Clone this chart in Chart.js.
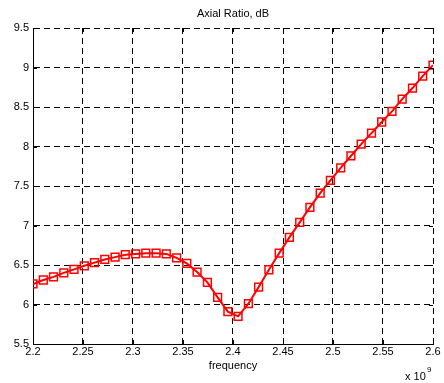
<!DOCTYPE html>
<html>
<head>
<meta charset="utf-8">
<script src="https://cdn.jsdelivr.net/npm/chart.js@4"></script>
<style>
  html, body { margin: 0; padding: 0; background: #fff; }
  #wrap { width: 444px; height: 383px; }
</style>
</head>
<body>
<div id="wrap"><canvas id="arChart" width="444" height="383"></canvas></div>
<script>
// frequency in GHz (axis shows x 10^9), 40 samples 2.2 .. 2.6
const freq = [
  2.2, 2.2103, 2.2205, 2.2308, 2.241, 2.2513, 2.2615, 2.2718, 2.2821, 2.2923,
  2.3026, 2.3128, 2.3231, 2.3333, 2.3436, 2.3538, 2.3641, 2.3744, 2.3846, 2.3949,
  2.4051, 2.4154, 2.4256, 2.4359, 2.4462, 2.4564, 2.4667, 2.4769, 2.4872, 2.4974,
  2.5077, 2.5179, 2.5282, 2.5385, 2.5487, 2.559, 2.5692, 2.5795, 2.5897, 2.6
];
const axialRatio = [
  6.26, 6.31, 6.35, 6.40, 6.445, 6.49, 6.53, 6.57, 6.60, 6.63,
  6.64, 6.65, 6.65, 6.64, 6.59, 6.52, 6.41, 6.28, 6.09, 5.91,
  5.85, 6.01, 6.22, 6.44, 6.65, 6.85, 7.04, 7.23, 7.41, 7.57,
  7.73, 7.88, 8.03, 8.17, 8.31, 8.445, 8.60, 8.74, 8.89, 9.03
];
const xTicks = [2.2, 2.25, 2.3, 2.35, 2.4, 2.45, 2.5, 2.55, 2.6];
const yTicks = [5.5, 6, 6.5, 7, 7.5, 8, 8.5, 9, 9.5];
const titleText = "Axial Ratio, dB";
const xLabel = "frequency";

const FONT = "Arial, 'Liberation Sans', sans-serif";

// matlab style extras: inward ticks, title, labels, exponent
const matlabBits = {
  id: "matlabBits",
  afterDraw(chart) {
    const ctx = chart.ctx;
    const a = chart.chartArea;
    const xs = chart.scales.x;
    const ys = chart.scales.y;
    ctx.save();
    ctx.strokeStyle = "#000";
    ctx.lineWidth = 1;
    ctx.beginPath();
    for (const t of xTicks) {
      const px = Math.round(xs.getPixelForValue(t)) + 0.5;
      ctx.moveTo(px, a.bottom); ctx.lineTo(px, a.bottom - 4);
      ctx.moveTo(px, a.top); ctx.lineTo(px, a.top + 4);
    }
    for (const t of yTicks) {
      const py = Math.round(ys.getPixelForValue(t)) + 0.5;
      ctx.moveTo(a.left, py); ctx.lineTo(a.left + 4, py);
      ctx.moveTo(a.right, py); ctx.lineTo(a.right - 4, py);
    }
    ctx.stroke();

    ctx.fillStyle = "#000";
    ctx.font = "11px " + FONT;
    ctx.textAlign = "center";
    ctx.textBaseline = "middle";
    ctx.fillText(titleText, (a.left + a.right) / 2, 14);
    ctx.fillText(xLabel, (a.left + a.right) / 2, 366);
    ctx.textAlign = "left";
    ctx.textBaseline = "alphabetic";
    ctx.fillText("x 10", 405, 380);
    ctx.font = "8px " + FONT;
    ctx.fillText("9", 427, 372);
    ctx.restore();
  }
};

const arElement = document.getElementById("arChart");
const arChart = new Chart(arElement, {
  type: "scatter",
  data: {
    datasets: [
      {
        data: freq.map((f, i) => ({ x: f, y: axialRatio[i] })),
        showLine: true,
        borderColor: "#ff0000",
        borderWidth: 2,
        pointStyle: "rect",
        pointRadius: 5.5,
        pointBorderWidth: 1.5,
        pointBorderColor: "#ff0000",
        pointBackgroundColor: "rgba(0,0,0,0)",
        tension: 0,
      },
    ],
  },
  options: {
    responsive: false,
    animation: false,
    layout: { padding: { top: 28, right: 11, left: 0, bottom: 0 } },
    plugins: {
      legend: { display: false },
      tooltip: { enabled: false },
    },
    scales: {
      x: {
        type: "linear",
        min: 2.2,
        max: 2.6,
        afterBuildTicks: (s) => { s.ticks = xTicks.map((v) => ({ value: v })); },
        afterFit: (s) => { s.height = 39; },
        ticks: {
          color: "#000",
          font: { size: 11, family: FONT },
          padding: 1,
          maxRotation: 0,
          autoSkip: false,
          callback: (v) => String(parseFloat(v.toFixed(2))),
        },
        grid: { color: "#000", lineWidth: 1, drawTicks: false },
        border: { display: true, color: "#000", width: 1, dash: [6, 4] },
      },
      y: {
        min: 5.5,
        max: 9.5,
        afterBuildTicks: (s) => { s.ticks = yTicks.map((v) => ({ value: v })); },
        afterFit: (s) => { s.width = 33; },
        ticks: {
          color: "#000",
          font: { size: 11, family: FONT },
          padding: 4,
          autoSkip: false,
          callback: (v) => String(parseFloat(v.toFixed(2))),
        },
        grid: { color: "#000", lineWidth: 1, drawTicks: false },
        border: { display: true, color: "#000", width: 1, dash: [6, 4] },
      },
    },
  },
  plugins: [matlabBits],
});
</script>
</body>
</html>
